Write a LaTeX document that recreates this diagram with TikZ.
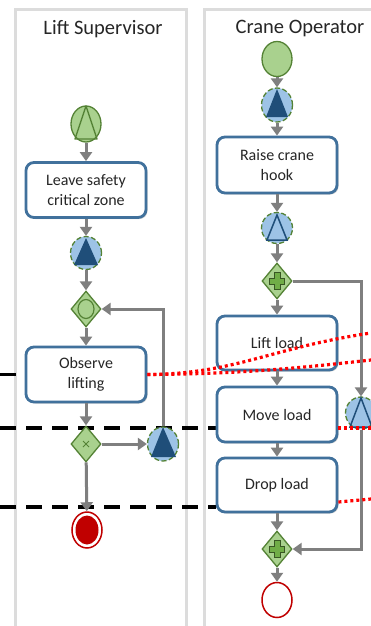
\documentclass[tikz,border=0pt]{standalone}
\usepackage{fontspec}
\setmainfont{Carlito}
\usetikzlibrary{shapes.geometric,arrows.meta,shadows,backgrounds,calc}
\definecolor{lanegray}{HTML}{DCDCDC}
\definecolor{boxblue}{HTML}{41719C}
\definecolor{gfill}{HTML}{A9D18E}
\definecolor{gdark}{HTML}{548235}
\definecolor{gplus}{HTML}{70AD47}
\definecolor{gplusdark}{HTML}{385723}
\definecolor{lblue}{HTML}{9DC3E6}
\definecolor{dblue}{HTML}{1F4E79}
\definecolor{flowgray}{HTML}{7F7F7F}
\definecolor{endred}{HTML}{C00000}
\begin{document}
\begin{tikzpicture}[x=1pt,y=-1pt,
  lane/.style={draw=lanegray,line width=3pt},
  title/.style={font=\fontsize{20.5}{24}\selectfont,text=black!85,inner sep=0pt},
  task/.style={draw=boxblue,line width=2.8pt,fill=white,rounded corners=8pt,
    minimum width=120pt,minimum height=55pt,align=center,inner sep=2pt,
    font=\fontsize{16}{20}\selectfont,text=black!85,
    drop shadow={shadow xshift=1.5pt,shadow yshift=-1.5pt,opacity=0.3,fill=black!60}},
  startev/.style={ellipse,draw=gdark,line width=1.3pt,fill=gfill,
    minimum width=30pt,minimum height=36pt,inner sep=0pt},
  midev/.style={ellipse,draw=gdark,line width=1.3pt,dash pattern=on 5pt off 2.5pt,
    fill=lblue,minimum width=31pt,minimum height=33pt,inner sep=0pt},
  gate/.style={diamond,draw=gdark,line width=1.3pt,fill=gfill,
    minimum width=30pt,minimum height=36pt,inner sep=0pt},
  flow/.style={draw=flowgray,line width=3pt,-{Triangle[width=12pt,length=9pt]}},
  reddots/.style={draw=red,line width=3.2pt,dash pattern=on 3pt off 3pt},
  blackdash/.style={draw=black,line width=3.5pt,dash pattern=on 16pt off 10pt},
  darktri/.style={fill=dblue},
  opentri/.style={draw=dblue,line width=1.5pt,line join=miter},
]
\useasboundingbox (0,0) rectangle (371,626);
\clip (0,0) rectangle (371,626);

% titles
\node[title] (t1) at (103,29) {Lift Supervisor};
\node[title] (t2) at (300,29) {Crane Operator};

% ---------- Lift Supervisor lane ----------
\node[startev] (ls) at (86,124) {};
\draw[gdark,line width=1.3pt,line join=round] ($(ls)+(0,-18)$) -- ($(ls)+(-11,15)$) -- ($(ls)+(11,15)$) -- cycle;
\node[task] (b1) at (86,190) {Leave safety\\critical zone};
\node[midev] (e2) at (86,253) {};
\fill[darktri] ($(e2)+(0,-15)$) -- ($(e2)+(-12,12)$) -- ($(e2)+(12,12)$) -- cycle;
\node[gate] (g1) at (86,309) {};
\node[ellipse,draw=gdark,line width=1.2pt,fill=gfill,minimum width=16pt,minimum height=19pt,inner sep=0pt] (g1c) at (g1) {};
\node[task] (b2) at (86,374.5) {Observe\\lifting};
\node[gate] (g2) at (86,444) {};
\draw[gdark,line width=0.9pt] ($(g2)+(-3,-3)$) -- ($(g2)+(3,3)$) ($(g2)+(-3,3)$) -- ($(g2)+(3,-3)$);
\node[midev,minimum height=34pt] (e3) at (163,444) {};
\fill[darktri] ($(e3)+(0,-17)$) -- ($(e3)+(-12,13)$) -- ($(e3)+(13,13)$) -- cycle;
\node[ellipse,draw=endred,line width=1.5pt,fill=white,minimum width=30pt,minimum height=36pt,inner sep=0pt] (lend) at (87,530) {};
\node[ellipse,fill=endred,minimum width=23pt,minimum height=29pt,inner sep=0pt] (lendin) at (lend) {};

% ---------- Crane Operator lane ----------
\node[startev,minimum height=35pt] (rs) at (277,59) {};
\node[midev,minimum height=34pt] (e1r) at (277,105) {};
\fill[darktri] ($(e1r)+(0,-16)$) -- ($(e1r)+(-11,12)$) -- ($(e1r)+(11,12)$) -- cycle;
\node[task,minimum height=56pt] (b3) at (277,165) {Raise crane\\hook};
\node[midev,minimum height=31pt] (e2r) at (277,228) {};
\draw[opentri] ($(e2r)+(0,-13)$) -- ($(e2r)+(-10,12)$) -- ($(e2r)+(10,12)$) -- cycle;
\node[gate] (g3) at (277,281) {};
\draw[gplusdark,fill=gplus,line width=0.9pt] ($(g3)+(-3,-8.5)$) -- ($(g3)+(3,-8.5)$) -- ($(g3)+(3,-3)$) -- ($(g3)+(7.5,-3)$) -- ($(g3)+(7.5,3)$) -- ($(g3)+(3,3)$) -- ($(g3)+(3,8.5)$) -- ($(g3)+(-3,8.5)$) -- ($(g3)+(-3,3)$) -- ($(g3)+(-7.5,3)$) -- ($(g3)+(-7.5,-3)$) -- ($(g3)+(-3,-3)$) -- cycle;
\node[task,minimum height=54pt] (b4) at (277,343) {Lift load};
\node[task] (b5) at (277,414.5) {Move load};
\node[task,minimum height=54pt] (b6) at (277,485) {Drop load};
\node[midev,minimum height=32pt] (e4) at (361,413) {};
\draw[opentri] ($(e4)+(0,-15)$) -- ($(e4)+(-11,14)$) -- ($(e4)+(11,14)$) -- cycle;
\node[gate] (g4) at (277,549) {};
\draw[gplusdark,fill=gplus,line width=0.9pt] ($(g4)+(-3,-8.5)$) -- ($(g4)+(3,-8.5)$) -- ($(g4)+(3,-3)$) -- ($(g4)+(7.5,-3)$) -- ($(g4)+(7.5,3)$) -- ($(g4)+(3,3)$) -- ($(g4)+(3,8.5)$) -- ($(g4)+(-3,8.5)$) -- ($(g4)+(-3,3)$) -- ($(g4)+(-7.5,3)$) -- ($(g4)+(-7.5,-3)$) -- ($(g4)+(-3,-3)$) -- cycle;
\node[ellipse,draw=endred,line width=1.5pt,fill=white,minimum width=30pt,minimum height=35pt,inner sep=0pt] (rend) at (277,600) {};

% free ends
\coordinate (d1) at (0,374.5);
\coordinate (d2) at (0,428);
\coordinate (d3) at (0,507);
\coordinate (r1a) at (371,333);
\coordinate (r1b) at (371,360);
\coordinate (r2) at (371,428);
\coordinate (r3) at (371,499);

\begin{scope}[on background layer]
  \fill[white] (0,0) rectangle (371,626);
  \draw[lane] (15.5,640) -- (15.5,9.5) -- (186.5,9.5) -- (186.5,640);
  \draw[lane] (204.5,640) -- (204.5,9.5) -- (390,9.5);
  \draw[blackdash] (d1) -- (b2.west);
  \draw[blackdash] (d2) -- ([yshift=-13.5pt]b5.west);
  \draw[blackdash] (d3) -- ([yshift=-22pt]b6.west);
\end{scope}

% sequence flows
\draw[flow] (ls) -- (b1);
\draw[flow] (b1) -- (e2);
\draw[flow] (e2) -- (g1);
\draw[flow] (g1) -- (b2);
\draw[flow] (b2) -- (g2);
\draw[flow] (g2.east) -- (e3.west);
\draw[flow] (e3.north) |- (g1.east);
\draw[flow] (g2) -- (lend);

\draw[flow] (rs) -- (e1r);
\draw[flow] (e1r) -- (b3);
\draw[flow] (b3) -- (e2r);
\draw[flow] (e2r) -- (g3);
\draw[flow] (g3) -- (b4);
\draw[flow] (b4) -- (b5);
\draw[flow] (b5) -- (b6);
\draw[flow] (b6) -- (g4);
\draw[flow] (g4) -- (rend);
\draw[flow] (g3.east) -| (e4.north);
\draw[flow] (e4.south) |- (g4.east);

% red dotted associations
\draw[reddots] (b2.east) .. controls (235,374) and (270,348) .. (r1a);
\draw[reddots] (b2.east) .. controls (240,374) and (300,368) .. (r1b);
\draw[reddots] ([yshift=-13.5pt]b5.east) -- (r2);
\draw[reddots] ([yshift=-17pt]b6.east) -- (r3);
\end{tikzpicture}
\end{document}
